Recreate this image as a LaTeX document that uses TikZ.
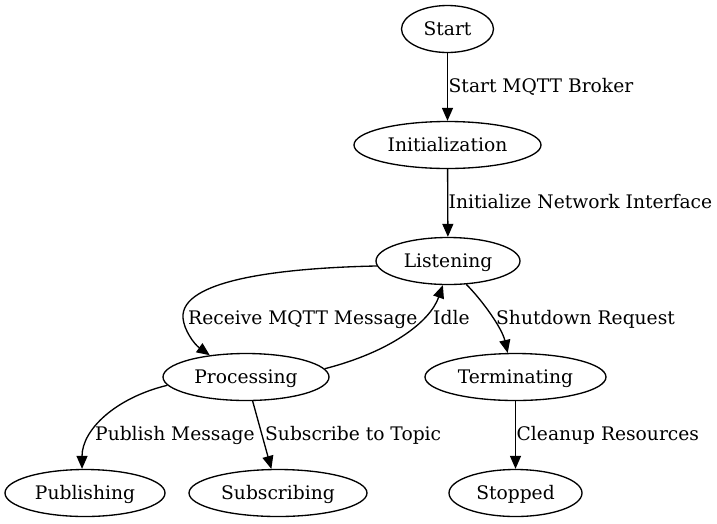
\documentclass[tikz,border=0pt]{standalone}
\usepackage{fontspec}
\setmainfont{DejaVu Serif}
\usetikzlibrary{arrows.meta,shapes.geometric}
\begin{document}
\begin{tikzpicture}[x=1pt,y=-1pt,
  every node/.style={font=\fontsize{18.67}{22}\selectfont, text height=14.5pt, text depth=1.8pt, inner sep=0pt},
  state/.style={draw, ellipse, line width=1.33pt, minimum height=47pt},
  lbl/.style={anchor=west},
  edge/.style={line width=1.33pt, -{Triangle[length=13pt,width=11pt]}}]
\useasboundingbox (0,0) rectangle (717,523);
\node[state, minimum width=92pt]  (S)  at (447.5,29)  {Start};
\node[state, minimum width=187pt] (I)  at (447.5,145) {Initialization};
\node[state, minimum width=144pt] (L)  at (448,261)   {Listening};
\node[state, minimum width=166pt] (P)  at (246,377)   {Processing};
\node[state, minimum width=181pt] (T)  at (515.5,377) {Terminating};
\node[state, minimum width=160pt] (Pu) at (85,493)    {Publishing};
\node[state, minimum width=178pt] (Su) at (278,493)   {Subscribing};
\node[state, minimum width=133pt] (St) at (515.5,493) {Stopped};

\draw[edge] (S) -- (I);
\draw[edge] (I) -- (L);
\draw[edge] (L.184) .. controls (280,268) and (180,280) .. (183,318)
            .. controls (184,330) and (194,344) .. (P.149);
\draw[edge] (P.6) .. controls (390,352) and (430,322) .. (L.-102);
\draw[edge] (L.-52) .. controls (482,300) and (502,328) .. (T.108);
\draw[edge] (P.186) .. controls (115,398) and (82,430) .. (Pu.97);
\draw[edge] (P) -- (Su);
\draw[edge] (T) -- (St);

\node[lbl] (l1) at (448.5,86)  {Start MQTT Broker};
\node[lbl] (l2) at (448.5,202) {Initialize Network Interface};
\node[lbl] (l3) at (188,318)   {Receive MQTT Message};
\node[lbl] (l4) at (433,318)   {Idle};
\node[lbl] (l5) at (496,318)   {Shutdown Request};
\node[lbl] (l6) at (95,434)    {Publish Message};
\node[lbl] (l7) at (265,434)   {Subscribe to Topic};
\node[lbl] (l8) at (516.5,434) {Cleanup Resources};
\end{tikzpicture}
\end{document}
